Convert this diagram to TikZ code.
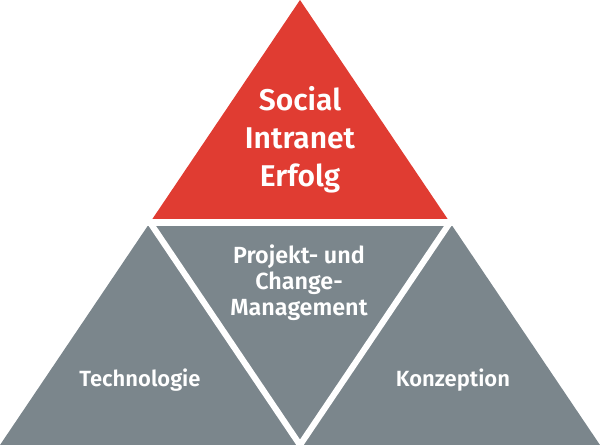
\documentclass[tikz,border=0pt]{standalone}
\usepackage{fontspec}
\setmainfont{Fira Sans}[BoldFont={Fira Sans SemiBold}]
\definecolor{pyrred}{RGB}{224,60,50}
\definecolor{pyrgray}{RGB}{123,134,140}
\begin{document}
\begin{tikzpicture}[x=0.75pt,y=-0.75pt,
  facet/.style={draw=none},
  gap/.style={draw=white,line width=4.6pt},
  title/.style={text=white,font=\bfseries\fontsize{22.5}{28.5}\selectfont,align=center,inner sep=0pt},
  label/.style={text=white,font=\bfseries\fontsize{16.5}{19.5}\selectfont,align=center,inner sep=0pt}]
\useasboundingbox (0,0) rectangle (600,445);
\coordinate (top) at (300,0);
\coordinate (bl) at (0,445);
\coordinate (br) at (600,445);
\coordinate (ml) at (150,222.5);
\coordinate (mr) at (450,222.5);
\coordinate (mb) at (300,445);
\coordinate (mlx) at (138,222.5);
\coordinate (mrx) at (462,222.5);
\fill[pyrred,facet] (top) -- (ml) -- (mr) -- cycle;
\fill[pyrgray,facet] (ml) -- (bl) -- (mb) -- cycle;
\fill[pyrgray,facet] (ml) -- (mr) -- (mb) -- cycle;
\fill[pyrgray,facet] (mr) -- (mb) -- (br) -- cycle;
\draw[gap] (mlx) -- (mrx);
\draw[gap] (ml) -- (mb) -- (mr);
\node[title] (t1) at (300,140) {Social\\Intranet\\Erfolg};
\node[label,font=\bfseries\fontsize{17.5}{19.5}\selectfont] (t2) at (299,283) {Projekt- und\\Change-\\Management};
\node[label,anchor=base] (t3) at (140,387) {Technologie};
\node[label,anchor=base] (t4) at (453,387) {Konzeption};
\end{tikzpicture}
\end{document}
